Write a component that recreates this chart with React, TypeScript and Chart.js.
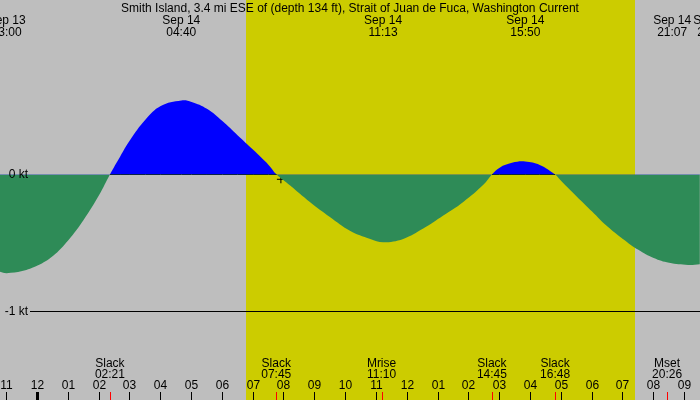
import { useRef, useEffect } from 'react';
import { Chart, registerables } from 'chart.js';

Chart.register(...registerables);

// Current readings (hours from Sep 14 00:00, knots; + flood, - ebb)
const hours = [-1.22, -1, -0.5, 0, 0.5, 1, 1.5, 2, 2.35, 2.68, 3, 3.5, 4, 4.67, 5, 5.5, 6, 6.5, 7, 7.5, 7.76, 8.2, 8.84, 9.49, 10.14, 10.8, 11.22, 11.87, 12.52, 13.17, 13.82, 14.47, 14.75, 15, 15.4, 15.83, 16.3, 16.8, 17, 17.5, 18, 18.5, 19, 19.5, 20, 20.5, 21.12, 21.5];
const knots = [-0.71, -0.72, -0.705, -0.665, -0.595, -0.48, -0.33, -0.15, 0, 0.13, 0.25, 0.4, 0.5, 0.54, 0.53, 0.48, 0.39, 0.285, 0.18, 0.07, 0, -0.08, -0.2, -0.31, -0.41, -0.47, -0.494, -0.47, -0.395, -0.3, -0.2, -0.075, 0, 0.05, 0.085, 0.095, 0.07, 0, -0.048, -0.16, -0.27, -0.38, -0.47, -0.55, -0.61, -0.645, -0.66, -0.655];

// max current labels along the top
const maxDays = ['Sep 13', 'Sep 14', 'Sep 14', 'Sep 14', 'Sep 14', 'Sep 14'];
const maxTimes = ['23:00', '04:40', '11:13', '15:50', '21:07', '21:54'];

// slack / moon events along the bottom
const eventNames = ['Slack', 'Slack', 'Mrise', 'Slack', 'Slack', 'Mset'];
const eventTimes = ['02:21', '07:45', '11:10', '14:45', '16:48', '20:26'];

// hour ticks, first one is 23:00 Sep 13
const firstHour = -1;
const hourLabels = ['11', '12', '01', '02', '03', '04', '05', '06', '07', '08', '09', '10', '11', '12', '01', '02', '03', '04', '05', '06', '07', '08', '09'];

const daylight = ['06:46', '19:24'];
const knotLines = [0, -1];

const nowMark = { x: 7.9, y: -0.035 };

const title = 'Smith Island, 3.4 mi ESE of (depth 134 ft), Strait of Juan de Fuca, Washington Current';

const toHours = (t: string, day = 'Sep 14') => {
    const [h, m] = t.split(':').map(Number);
    return h + m / 60 - (day === 'Sep 13' ? 24 : 0);
};

const FONT = '12px "Liberation Sans", Arial, sans-serif';

const decor = {
    id: 'tideDecor',
    beforeDraw(chart: any) {
        const { ctx, width, height } = chart;
        const x = chart.scales.x;
        ctx.save();
        ctx.fillStyle = '#bebebe';
        ctx.fillRect(0, 0, width, height);
        const x0 = Math.round(x.getPixelForValue(toHours(daylight[0])));
        const x1 = Math.round(x.getPixelForValue(toHours(daylight[1])));
        ctx.fillStyle = '#cccc00';
        ctx.fillRect(x0, 0, x1 - x0, height);
        ctx.restore();
    },
    afterDraw(chart: any) {
        const { ctx, width } = chart;
        const x = chart.scales.x;
        const y = chart.scales.y;
        ctx.save();
        ctx.font = FONT;
        ctx.fillStyle = '#000';
        ctx.strokeStyle = '#000';
        ctx.lineWidth = 1;

        // knot labels and the -1 kt line
        ctx.textAlign = 'right';
        ctx.textBaseline = 'middle';
        knotLines.forEach(k => {
            const py = Math.floor(y.getPixelForValue(k)) + 0.5;
            ctx.fillText(`${k} kt`, 28, py);
            if (k !== 0) {
                ctx.beginPath();
                ctx.moveTo(30, py);
                ctx.lineTo(width, py);
                ctx.stroke();
            }
        });

        // title
        ctx.textAlign = 'center';
        ctx.textBaseline = 'alphabetic';
        ctx.fillText(title, width / 2, 12);

        // top labels, shifted left when they would overlap the next one
        const centers = maxTimes.map((t, i) => x.getPixelForValue(toHours(t, maxDays[i])));
        const widths = maxTimes.map((t, i) => Math.max(ctx.measureText(t).width, ctx.measureText(maxDays[i]).width));
        for (let i = centers.length - 2; i >= 0; i--) {
            const nextLeft = centers[i + 1] - widths[i + 1] / 2;
            if (centers[i] + widths[i] / 2 > nextLeft - 2) centers[i] = nextLeft - 2 - widths[i] / 2;
        }
        maxTimes.forEach((t, i) => {
            ctx.fillText(maxDays[i], centers[i], 24);
            ctx.fillText(t, centers[i], 36);
        });

        // bottom events
        eventTimes.forEach((t, i) => {
            const px = x.getPixelForValue(toHours(t));
            ctx.fillText(eventNames[i], px, 367);
            ctx.fillText(t, px, 378);
        });

        // hour ticks
        hourLabels.forEach((lbl, i) => {
            const h = firstHour + i;
            const px = Math.floor(x.getPixelForValue(h)) + 0.5;
            ctx.fillText(lbl, px, 389);
            ctx.lineWidth = h % 24 === 0 ? 3 : 1;
            ctx.beginPath();
            ctx.moveTo(px, 392);
            ctx.lineTo(px, 400);
            ctx.stroke();
        });

        // event ticks
        ctx.strokeStyle = '#ff0000';
        ctx.lineWidth = 1;
        eventTimes.forEach(t => {
            const px = Math.round(x.getPixelForValue(toHours(t))) + 0.5;
            ctx.beginPath();
            ctx.moveTo(px, 392);
            ctx.lineTo(px, 400);
            ctx.stroke();
        });
        ctx.restore();
    }
};

const TideChart = () => {
    const canvasRef = useRef(null);
    const chartRef = useRef(null);

    useEffect(() => {
        if (!canvasRef.current) return;
        if (chartRef.current) chartRef.current.destroy();

        const points = hours.map((h, i) => ({ x: h, y: knots[i] }));
        const floodBase = hours.map((h, i) => ({ x: h, y: knots[i] >= 0 ? 0 : null }));

        chartRef.current = new Chart(canvasRef.current, {
            type: 'line',
            data: {
                datasets: [
                    {
                        data: points,
                        borderColor: 'rgba(0,0,0,0)',
                        borderWidth: 0,
                        pointRadius: 0,
                        tension: 0.4,
                        fill: { target: 'origin', above: '#0000ff', below: '#2e8b57' }
                    },
                    {
                        data: floodBase,
                        borderColor: '#000',
                        borderWidth: 1,
                        pointRadius: 0,
                        spanGaps: false,
                        fill: false
                    },
                    {
                        data: [nowMark],
                        showLine: false,
                        pointStyle: 'cross',
                        pointRadius: 4,
                        borderColor: '#000',
                        borderWidth: 1,
                        clip: false
                    }
                ]
            },
            options: {
                responsive: false,
                animation: false,
                layout: { padding: 0, autoPadding: false },
                plugins: {
                    legend: { display: false },
                    tooltip: { enabled: false }
                },
                scales: {
                    x: { type: 'linear', min: -37.5 / 30.81, max: (700 - 37.5) / 30.81, display: false },
                    y: { min: -225.5 / 137, max: 174.5 / 137, display: false }
                }
            },
            plugins: [decor]
        });

        return () => { if (chartRef.current) chartRef.current.destroy(); };
    }, []);

    return (
        <div style={{ width: 700, height: 400 }}>
            <canvas ref={canvasRef} width={700} height={400}></canvas>
        </div>
    );
};

export default function App() {
    useEffect(() => { document.body.style.margin = '0'; }, []);
    return <TideChart />;
}
